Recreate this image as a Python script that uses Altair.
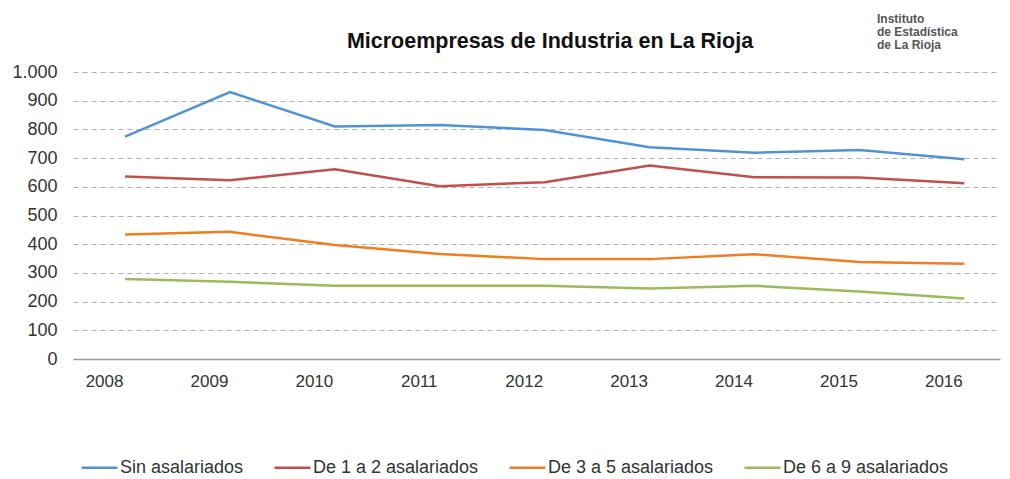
import altair as alt
import pandas as pd

years = [2008, 2009, 2010, 2011, 2012, 2013, 2014, 2015, 2016]
series_names = ["Sin asalariados", "De 1 a 2 asalariados", "De 3 a 5 asalariados", "De 6 a 9 asalariados"]
sin_asalariados = [775, 930, 810, 815, 798, 738, 719, 728, 696]
de_1_a_2 = [636, 623, 661, 602, 616, 674, 633, 632, 612]
de_3_a_5 = [434, 443, 397, 366, 348, 348, 365, 338, 332]
de_6_a_9 = [279, 269, 255, 255, 255, 246, 255, 235, 211]
colors = ["#4F93D6", "#C0504D", "#F07D22", "#9BBB59"]
y_ticks = [0, 100, 200, 300, 400, 500, 600, 700, 800, 900, 1000]
title_text = "Microempresas de Industria en La Rioja"
logo_text = "Instituto\nde Estadística\nde La Rioja"

rows = []
for name, vals in zip(series_names, [sin_asalariados, de_1_a_2, de_3_a_5, de_6_a_9]):
    for yr, v in zip(years, vals):
        rows.append({"year": yr, "value": v, "serie": name})
df = pd.DataFrame(rows)

FONT = "Liberation Sans"

lines = alt.Chart(df).mark_line(strokeWidth=2.5).encode(
    x=alt.X("year:Q",
            scale=alt.Scale(domain=[2007.504, 2016.34], nice=False, zero=False),
            axis=alt.Axis(values=years, format="d", title=None, grid=False, ticks=False,
                          domain=True, domainColor="#9a9a9a", domainWidth=1.5,
                          labelFontSize=17, labelColor="#333333", labelFont=FONT,
                          labelPadding=14, labelOffset=-21, labelFlush=False)),
    y=alt.Y("value:Q",
            scale=alt.Scale(domain=[0, 1000], nice=False),
            axis=alt.Axis(values=y_ticks, title=None, ticks=False, domain=False,
                          grid=True, gridDash=[5, 4], gridColor="#b0b0b0", gridWidth=1,
                          labelExpr="replace(format(datum.value, ','), ',', '.')",
                          labelFontSize=18, labelColor="#333333", labelFont=FONT,
                          labelPadding=16)),
    color=alt.Color("serie:N",
                    scale=alt.Scale(domain=series_names, range=colors),
                    legend=alt.Legend(title=None, orient="none", legendX=7, legendY=376,
                                      direction="horizontal", symbolType="stroke",
                                      symbolSize=1296, symbolStrokeWidth=2.5,
                                      labelFontSize=18, labelColor="#333333", labelFont=FONT,
                                      labelLimit=400, labelOffset=1, columnPadding=25)),
)

title = alt.Chart(pd.DataFrame({"t": [title_text]})).mark_text(
    align="center", baseline="alphabetic", font=FONT, fontWeight="bold", fontSize=21.5,
    color="#111111"
).encode(text="t:N", x=alt.value(477), y=alt.value(-24))

logo = alt.Chart(pd.DataFrame({"t": [logo_text]})).mark_text(
    align="left", baseline="top", font=FONT, fontWeight="bold", fontSize=12,
    lineBreak="\n", lineHeight=13, color="#555555"
).encode(text="t:N", x=alt.value(804), y=alt.value(-58))

chart = alt.layer(lines, title, logo).properties(
    width=927, height=287,
    autosize=alt.AutoSizeParams(type="none"),
    padding={"left": 65, "top": 64, "right": 2, "bottom": 118},
).configure_view(stroke=None)

chart.save("out.html", embed_options={"renderer": "svg", "actions": False})
